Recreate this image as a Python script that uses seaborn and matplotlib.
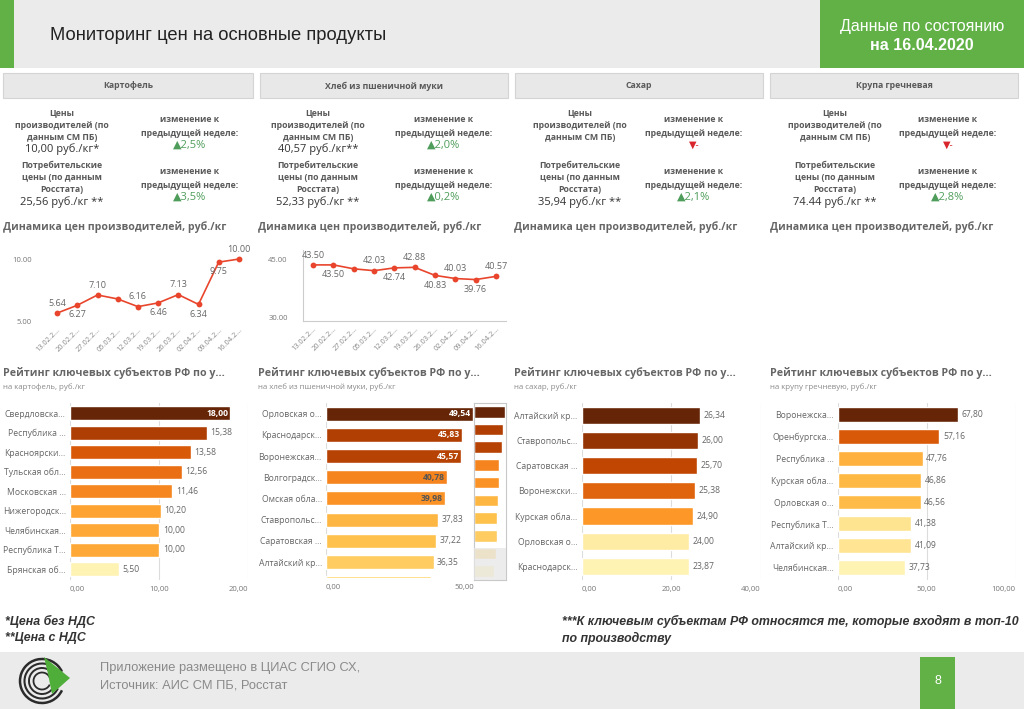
import numpy as np
import pandas as pd
import matplotlib
matplotlib.use("Agg")
import matplotlib.pyplot as plt
import matplotlib.patches as mpatches
import seaborn as sns

sns.set_theme(style="white")
CARD_FONT = ['Open Sans', 'DejaVu Sans']
NARROW_FONT = ['Liberation Sans Narrow', 'Liberation Sans', 'DejaVu Sans']
plt.rcParams['font.family'] = CARD_FONT

W, H = 1024, 709

# ---------------- data ----------------
products = ["Картофель", "Хлеб из пшеничной муки", "Сахар", "Крупа гречневая"]
producer_price = ["10,00 руб./кг*", "40,57 руб./кг**", "", ""]
consumer_price = ["25,56 руб./кг **", "52,33 руб./кг **", "35,94 руб./кг **", "74.44 руб./кг **"]
producer_change = ["2,5%", "2,0%", "-", "-"]
producer_change_up = [True, True, False, False]
consumer_change = ["3,5%", "0,2%", "2,1%", "2,8%"]
consumer_change_up = [True, True, True, True]
subtitles = ["на картофель, руб./кг", "на хлеб из пшеничной муки, руб./кг",
             "на сахар, руб./кг", "на крупу гречневую, руб./кг"]

dates = ["13.02.2020", "20.02.2020", "27.02.2020", "05.03.2020", "12.03.2020",
         "19.03.2020", "26.03.2020", "02.04.2020", "09.04.2020", "16.04.2020"]
potato_prices = [5.64, 6.27, 7.10, 6.78, 6.16, 6.46, 7.13, 6.34, 9.75, 10.00]
bread_prices = [43.50, 43.50, 42.50, 42.03, 42.74, 42.88, 40.83, 40.03, 39.76, 40.57]

potato_regions = ["Свердловска...", "Республика ...", "Красноярски...", "Тульская обл...",
                  "Московская ...", "Нижегородск...", "Челябинская...", "Республика Т...",
                  "Брянская об..."]
potato_values = [18.00, 15.38, 13.58, 12.56, 11.46, 10.20, 10.00, 10.00, 5.50]

bread_regions = ["Орловская о...", "Краснодарск...", "Воронежская...", "Волгоградск...",
                 "Омская обла...", "Ставропольс...", "Саратовская ...", "Алтайский кр...",
                 "Курская обла...", "Тамбовская ..."]
bread_values = [49.54, 45.83, 45.57, 40.78, 39.98, 37.83, 37.22, 36.35, 35.40, 32.50]

sugar_regions = ["Алтайский кр...", "Ставропольс...", "Саратовская ...", "Воронежски...",
                 "Курская обла...", "Орловская о...", "Краснодарск..."]
sugar_values = [26.34, 26.00, 25.70, 25.38, 24.90, 24.00, 23.87]

buck_regions = ["Воронежска...", "Оренбургска...", "Республика ...", "Курская обла...",
                "Орловская о...", "Республика Т...", "Алтайский кр...", "Челябинская..."]
buck_values = [67.80, 57.16, 47.76, 46.86, 46.56, 41.38, 41.09, 37.73]

# ---------------- style ----------------
GREEN = '#62b147'
GRAY_BG = '#ebebeb'
LINE_RED = '#e8452c'
TXT = '#5a5a5a'

fig = plt.figure(figsize=(W / 100, H / 100), dpi=100)
fig.patch.set_facecolor('white')

bg = fig.add_axes([0, 0, 1, 1], zorder=0)
bg.set_xlim(0, W)
bg.set_ylim(H, 0)
bg.axis('off')


def px_axes(x0, y0, x1, y1):
    ax = fig.add_axes([x0 / W, 1 - y1 / H, (x1 - x0) / W, (y1 - y0) / H], zorder=2)
    ax.patch.set_alpha(0)
    return ax


def t(x, y, s, **kw):
    kw.setdefault('va', 'center')
    bg.text(x, y, s, **kw)


# header
bg.add_patch(mpatches.Rectangle((0, 0), 820, 68, color=GRAY_BG, lw=0))
bg.add_patch(mpatches.Rectangle((0, 0), 14, 68, color=GREEN, lw=0))
bg.add_patch(mpatches.Rectangle((820, 0), 204, 68, color=GREEN, lw=0))
t(50, 36, "Мониторинг цен на основные продукты", fontsize=13.2, color='#222222', family=NARROW_FONT)
t(922, 26, "Данные по состоянию", fontsize=11.5, color='white', ha='center', family=NARROW_FONT)
t(922, 46, "на 16.04.2020", fontsize=11.5, color='white', ha='center', fontweight='bold', family=NARROW_FONT)

# product cards
box_x = [(3, 253), (260, 508), (515, 763), (770, 1018)]
left_x = [62, 318, 580, 835]
right_x = [190, 444, 694, 948]
title_x = [3, 258, 514, 770]

for i in range(4):
    x0, x1 = box_x[i]
    bg.add_patch(mpatches.Rectangle((x0, 73), x1 - x0, 25, fc='#e8e8e8', ec='#d4d4d4', lw=0.8))
    t((x0 + x1) / 2, 86, products[i], fontsize=6.3, color=TXT, ha='center', fontweight='bold')

    lx, rx = left_x[i], right_x[i]
    for y, s in zip([113, 126, 138], ["Цены", "производителей (по", "данным СМ ПБ)"]):
        t(lx, y, s, fontsize=6.3, color=TXT, ha='center', fontweight='bold')
    if producer_price[i]:
        t(lx, 149, producer_price[i], fontsize=8, color='#333333', ha='center')
    for y, s in zip([165, 177, 190], ["Потребительские", "цены (по данным", "Росстата)"]):
        t(lx, y, s, fontsize=6.3, color=TXT, ha='center', fontweight='bold')
    t(lx, 202, consumer_price[i], fontsize=8, color='#333333', ha='center')

    for (y1, y2, y3), chg, up in [((120, 133, 145), producer_change[i], producer_change_up[i]),
                                  ((172, 185, 197), consumer_change[i], consumer_change_up[i])]:
        t(rx, y1, "изменение к", fontsize=6.3, color=TXT, ha='center', fontweight='bold')
        t(rx, y2, "предыдущей неделе:", fontsize=6.3, color=TXT, ha='center', fontweight='bold')
        if up:
            t(rx, y3, "▲" + chg, fontsize=8, color='#4f9d5b', ha='center', family=CARD_FONT)
        else:
            t(rx, y3, "▼" + chg, fontsize=7, color='#d9262c', ha='center', family=CARD_FONT)

    t(title_x[i], 227, "Динамика цен производителей, руб./кг", fontsize=7.6, color='#666666',
      fontweight='bold')
    t(title_x[i], 373, "Рейтинг ключевых субъектов РФ по у...", fontsize=7.7, color='#666666',
      fontweight='bold')
    t(title_x[i], 387, subtitles[i], fontsize=5.7, color='#8a8a8a')

# ---------------- line charts ----------------
date_labels = [d[:7] + "..." for d in dates]
xs = np.arange(len(dates))


def line_chart(ax, values, label_pos, ylim, yticks, spines):
    sns.lineplot(x=xs, y=values, ax=ax, color=LINE_RED, lw=1.2, marker='o',
                 markersize=4.2, markeredgewidth=0, legend=False)
    ax.set_xlim(-0.5, len(values) - 0.5)
    ax.set_ylim(*ylim)
    ax.set_yticks(yticks)
    ax.set_yticklabels([f"{v:.2f}" for v in yticks], fontsize=5.5, color='#777777')
    ax.set_xticks(xs)
    ax.set_xticklabels(date_labels, fontsize=5.3, color='#888888', rotation=45,
                       ha='right', rotation_mode='anchor')
    ax.tick_params(axis='y', length=0, pad=11)
    ax.tick_params(axis='x', length=0, pad=3)
    ax.set_xlabel("")
    ax.set_ylabel("")
    for name, sp in ax.spines.items():
        sp.set_visible(spines and name in ('left', 'bottom'))
        sp.set_color('#cccccc')
        sp.set_linewidth(0.8)
    for x, v, p in zip(xs, values, label_pos):
        if p == 0:
            continue
        ax.annotate(f"{v:.2f}", (x, v), xytext=(0, 7 * p), textcoords='offset points',
                    ha='center', va='center', fontsize=6.5, color='#666666')


ax_l1 = px_axes(47, 250, 249, 322)
line_chart(ax_l1, potato_prices, [1, -1, 1, 0, 1, -1, 1, -1, -1, 1], (4.92, 10.73), [5, 10], False)
ax_l2 = px_axes(303, 250, 506, 321)
line_chart(ax_l2, bread_prices, [1, -1, 0, 1, -1, 1, -1, 1, -1, 1], (29.2, 47.3), [30, 45], True)

# ---------------- bar charts ----------------
cmap = plt.get_cmap('YlOrBr')


def bar_colors(values):
    v = np.asarray(values, float)
    pos = 0.15 + 0.85 * (v - v.min()) / (v.max() - v.min())
    return [cmap(p) for p in pos], pos


def fmt(v):
    return f"{v:.2f}".replace('.', ',')


def bar_chart(ax, regions, values, xmax, xticks, ylim, width, labels=True):
    colors, pos = bar_colors(values)
    df = pd.DataFrame({'region': regions, 'value': values})
    sns.barplot(data=df, x='value', y='region', hue='region', palette=colors, legend=False,
                dodge=False, orient='h', width=width, ax=ax, saturation=1)
    ax.set_xlim(0, xmax)
    ax.set_ylim(*ylim)
    ax.set_xlabel("")
    ax.set_ylabel("")
    for sp in ax.spines.values():
        sp.set_visible(False)
    ax.set_axisbelow(True)
    ax.grid(axis='x', color='#dcdcdc', lw=0.8)
    ax.grid(axis='y', visible=False)
    ax.tick_params(length=0)
    if labels:
        ax.set_xticks(xticks)
        ax.set_xticklabels([fmt(x) for x in xticks], fontsize=5.6, color='#777777')
        tl = ax.get_xticklabels()
        tl[0].set_horizontalalignment('left')
        tl[-1].set_horizontalalignment('right')
        ax.tick_params(axis='x', pad=4)
        ax.tick_params(axis='y', pad=3, labelsize=6.2, labelcolor='#666666')
        for i, (v, p) in enumerate(zip(values, pos)):
            if v > 0.79 * xmax:
                ax.text(v - xmax * 0.012, i, fmt(v), ha='right', va='center', fontsize=6.2,
                        color='white' if p > 0.75 else '#555555', fontweight='bold',
                        clip_on=True)
            else:
                ax.text(v + xmax * 0.02, i, fmt(v), ha='left', va='center', fontsize=6.2,
                        color='#666666', clip_on=True)
    else:
        ax.set_xticks([])
        ax.set_yticks([])


ax_b1 = px_axes(70, 403, 248.3, 580)
bar_chart(ax_b1, potato_regions, potato_values, 20, [0, 10, 20], (8.55, -0.53), 0.72)

ax_b2 = px_axes(326, 403, 474.3, 578)
bar_chart(ax_b2, bread_regions, bread_values, 50, [0, 50], (7.75, -0.5), 0.66)

ax_mini = px_axes(474.3, 403, 506, 580)
bar_chart(ax_mini, bread_regions, bread_values, 51.5, [], (9.5, -0.5), 0.66, labels=False)
ax_mini.grid(False)
for sp in ax_mini.spines.values():
    sp.set_visible(True)
    sp.set_color('#c8c8c8')
    sp.set_linewidth(0.8)
ax_mini.axhspan(7.7, 9.5, color='#e6e6e6', alpha=0.75, lw=0, zorder=5)

ax_b3 = px_axes(581.7, 403, 760.7, 580)
bar_chart(ax_b3, sugar_regions, sugar_values, 40, [0, 20, 40], (6.54, -0.49), 0.68)

ax_b4 = px_axes(837.7, 403, 1015.7, 580)
bar_chart(ax_b4, buck_regions, buck_values, 100, [0, 50, 100], (7.56, -0.52), 0.68)

# ---------------- footnotes & footer ----------------
fn_kw = dict(fontsize=8.9, color='#333333', fontweight='bold', fontstyle='italic', family=NARROW_FONT)
t(5, 621, "*Цена без НДС", **fn_kw)
t(5, 638, "**Цена с НДС", **fn_kw)
t(562, 621, "***К ключевым субъектам РФ относятся те, которые входят в топ-10", **fn_kw)
t(562, 638, "по производству", **fn_kw)

bg.add_patch(mpatches.Rectangle((0, 652), 1024, 57, color=GRAY_BG, lw=0))
bg.add_patch(mpatches.Rectangle((920, 657), 35, 52, color=GREEN, lw=0))
t(937.5, 681, "8", fontsize=9, color='white', ha='center', family=NARROW_FONT)
t(100, 668, "Приложение размещено в ЦИАС СГИО СХ,", fontsize=9.3, color='#8a8a8a', family=NARROW_FONT)
t(100, 685, "Источник: АИС СМ ПБ, Росстат", fontsize=9.3, color='#8a8a8a', family=NARROW_FONT)

# logo: concentric rings with a green arrow
for r, lw in [(22, 1.8), (17.5, 1.5), (13, 1.4), (8.5, 1.3)]:
    bg.add_patch(mpatches.Arc((42, 681), 2 * r, 2 * r, theta1=25, theta2=335,
                              color='#2b2b2b', lw=lw))
bg.add_patch(mpatches.Polygon([(44, 657), (70, 678), (52, 694), (48, 674)],
                              closed=True, color='#4fae3a', lw=0))

fig.savefig("out.png", dpi=100, facecolor='white')
